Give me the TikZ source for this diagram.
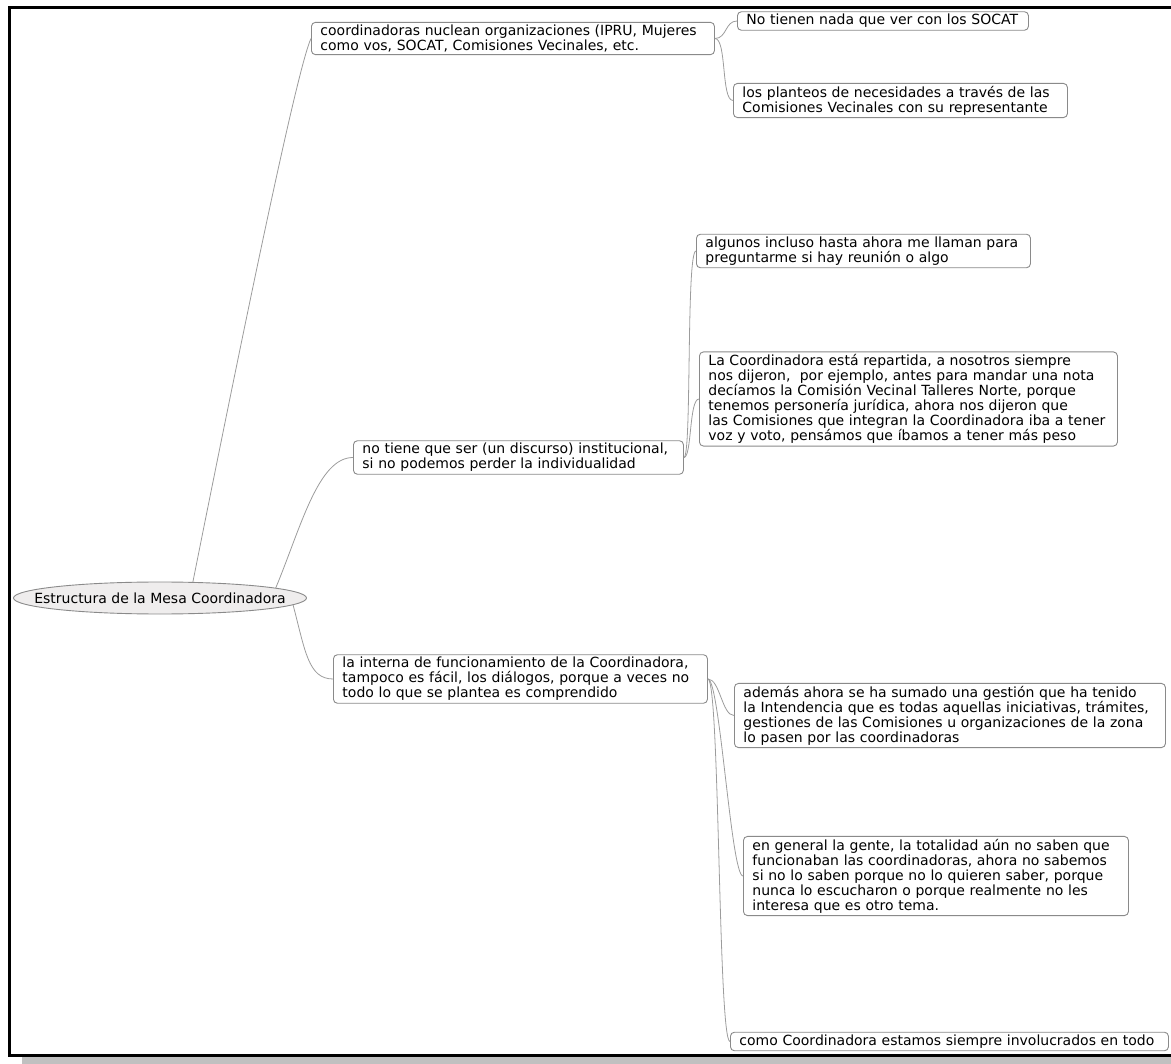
\documentclass[tikz,border=0pt]{standalone}
\usepackage{fontspec}
\setmainfont{DejaVu Sans}
\usepackage{xcolor}
\usetikzlibrary{shapes.geometric}

\definecolor{boxgray}{HTML}{8A8A8A}
\definecolor{edgegray}{HTML}{9C9C9C}
\definecolor{rootfill}{HTML}{EFEDED}
\definecolor{shadowgray}{HTML}{C0C0C0}

\begin{document}
\begin{tikzpicture}[
    x=1pt, y=-1pt,
    idea/.style={rectangle, draw=boxgray, rounded corners=4pt, fill=white,
                 align=left, anchor=west, inner xsep=9pt, inner ysep=2.5pt,
                 line width=0.9pt, font=\fontsize{14}{15}\selectfont},
    central/.style={ellipse, draw=boxgray, fill=rootfill, inner sep=0pt,
                    minimum width=293pt, minimum height=32pt, line width=0.9pt,
                    font=\fontsize{14}{15}\selectfont},
    branch/.style={draw=edgegray, line width=0.8pt}
]
\useasboundingbox (0,0) rectangle (1171,1064);
% frame and shadow
\fill[shadowgray] (22,1057) rectangle (1171,1064);
\draw[line width=3pt] (9.5,7.5) rectangle (1185,1055.5);

\node[central] (root) at (160,598) {\makebox[0pt]{Estructura de la Mesa Coordinadora}};

\node[idea, text width=385pt] (n1) at (311,38.5) {coordinadoras nuclean organizaciones (IPRU, Mujeres\\como vos, SOCAT, Comisiones Vecinales, etc.};
\node[idea, text width=273pt] (n1a) at (737,21) {No tienen nada que ver con los SOCAT};
\node[idea, text width=316pt] (n1b) at (733,100.5) {los planteos de necesidades a través de las\\Comisiones Vecinales con su representante};

\node[idea, text width=312pt] (n2) at (353,457.5) {no tiene que ser (un discurso) institucional,\\si no podemos perder la individualidad};
\node[idea, text width=316pt] (n2a) at (696,251) {algunos incluso hasta ahora me llaman para\\preguntarme si hay reunión o algo};
\node[idea, text width=400pt] (n2b) at (699,399) {La Coordinadora está repartida, a nosotros siempre\\nos dijeron,\ \ por ejemplo, antes para mandar una nota\\decíamos la Comisión Vecinal Talleres Norte, porque\\tenemos personería jurídica, ahora nos dijeron que\\las Comisiones que integran la Coordinadora iba a tener\\voz y voto, pensámos que íbamos a tener más peso};

\node[idea, text width=356pt] (n3) at (333,679) {la interna de funcionamiento de la Coordinadora,\\tampoco es fácil, los diálogos, porque a veces no\\todo lo que se plantea es comprendido};
\node[idea, text width=413pt] (n3a) at (734,715.5) {además ahora se ha sumado una gestión que ha tenido\\la Intendencia que es todas aquellas iniciativas, trámites,\\gestiones de las Comisiones u organizaciones de la zona\\lo pasen por las coordinadoras};
\node[idea, text width=367pt] (n3b) at (743,876) {en general la gente, la totalidad aún no saben que\\funcionaban las coordinadoras, ahora no sabemos\\si no lo saben porque no lo quieren saber, porque\\nunca lo escucharon o porque realmente no les\\interesa que es otro tema.};
\node[idea, text width=420pt] (n3c) at (730,1041.5) {como Coordinadora estamos siempre involucrados en todo};

% branches from the root
\draw[branch] (root.26) .. controls +(50,-250) and +(-14,30) .. (n1.west);
\draw[branch] (root.5) .. controls +(25,-60) and +(-35,0) .. (n2.west);
\draw[branch] (root.-3) .. controls +(12,45) and +(-25,0) .. (n3.west);

% sub-branches
\draw[branch] (n1.east) .. controls +(12,0) and +(-12,0) .. (n1a.west);
\draw[branch] (n1.east) .. controls +(12,0) and +(-12,0) .. (n1b.west);
\draw[branch] (n2.east) .. controls +(8,0) and +(-10,0) .. (n2a.west);
\draw[branch] (n2.east) .. controls +(8,0) and +(-10,0) .. (n2b.west);
\draw[branch] (n3.east) .. controls +(12,0) and +(-12,0) .. (n3a.west);
\draw[branch] (n3.east) .. controls +(12,0) and +(-12,0) .. (n3b.west);
\draw[branch] (n3.east) .. controls +(12,0) and +(-12,0) .. (n3c.west);
\end{tikzpicture}
\end{document}
